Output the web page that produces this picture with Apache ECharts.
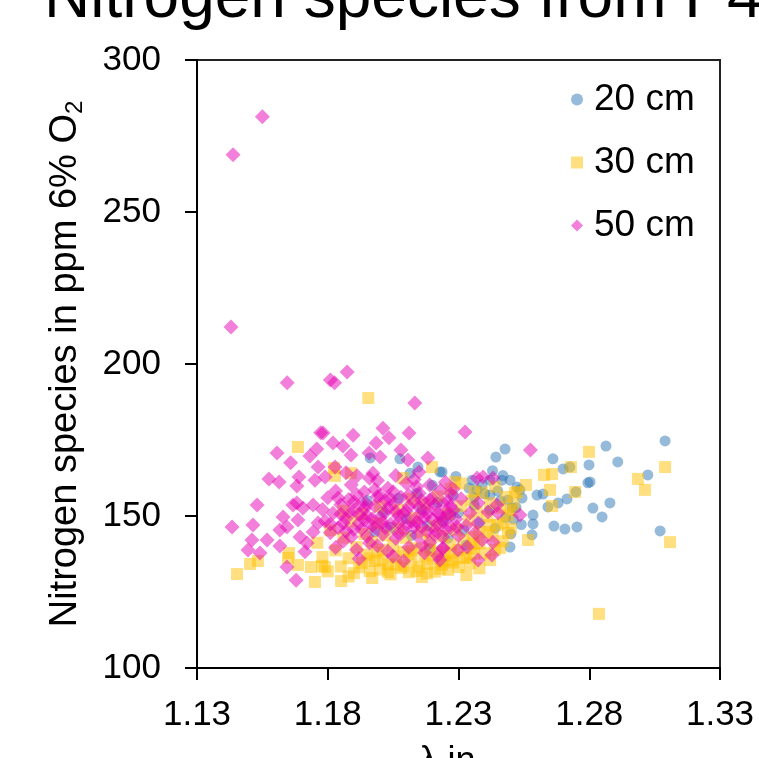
<!DOCTYPE html>
<html><head><meta charset="utf-8">
<script src="https://cdn.jsdelivr.net/npm/echarts@6/dist/echarts.min.js"></script>
<style>html,body{margin:0;padding:0;background:#fff}#c{width:759px;height:758px}</style>
</head><body><div id="c"></div>
<script>
const titleText = 'Nitrogen species from P4';
const xName = 'λ in -';
const yName = 'Nitrogen species in ppm 6% O{sub|2}';
const seriesNames = ['20 cm', '30 cm', '50 cm'];
const yTicks = [100, 150, 200, 250, 300];
const xTicks = [1.13, 1.18, 1.23, 1.28, 1.33];

const cm20 = [
[1.2864,173.0],[1.309,174.7],[1.2909,167.8],[1.3024,163.5],[1.2799,166.8],[1.2661,168.8],[1.27,165.5],[1.2726,166.1],
[1.2478,172.0],[1.2443,169.4],[1.2237,164.5],[1.2795,160.9],[1.2803,161.2],[1.2749,157.9],[1.2879,154.3],[1.2814,152.6],
[1.2849,149.7],[1.2715,155.6],[1.2681,154.3],[1.2642,153.0],[1.2585,150.3],[1.2585,147.4],[1.2581,143.8],[1.2665,146.7],
[1.2707,145.7],[1.2753,146.4],[1.3071,145.1],[1.2497,139.8],[1.2623,157.2],[1.26,156.9],[1.2543,155.9],[1.2524,159.5],
[1.2497,161.8],[1.2466,161.8],[1.242,156.9],[1.242,161.8],[1.2352,161.8],[1.2371,158.6],[1.2489,155.3],[1.2505,152.6],
[1.2535,158.6],[1.1962,169.1],[1.2076,168.8],[1.2145,166.1],[1.2115,164.1],[1.2229,164.5],
[1.201,151.3],[1.204,146.2],[1.207,155.8],[1.210,149.1],[1.212,143.6],[1.214,157.4],[1.216,152.2],[1.218,146.9],[1.220,160.1],[1.222,154.5],
[1.224,148.3],[1.226,142.7],[1.228,156.9],[1.230,151.0],[1.232,145.4],[1.234,159.2],[1.236,153.6],[1.238,147.8],[1.240,157.3],[1.242,151.9],
[1.244,146.0],[1.246,155.0],[1.248,149.5],[1.250,144.1],[1.252,152.8],[1.254,147.2],[1.229,163.0],[1.243,164.9],[1.219,139.2],[1.233,140.5],
[1.198,144.8],[1.195,155.1],[1.236,156.2],[1.239,160.4],[1.245,158.2],[1.247,163.3],[1.251,149.0],[1.227,150.1]
];

const cm30 = [
[1.1955,188.8],[1.1686,172.7],[1.1453,130.9],[1.1533,135.2],[1.1503,134.2],[1.1652,137.8],[1.1686,133.9],[1.1736,133.2],
[1.1751,128.3],[1.1778,133.6],[1.1648,136.2],[1.1851,128.6],[1.1789,133.2],[1.2837,117.8],[1.2799,171.1],[1.273,166.1],
[1.2627,163.5],[1.2658,163.8],[1.265,158.6],[1.2746,157.9],[1.2658,153.3],[1.2566,142.1],[1.2986,162.2],[1.3013,158.6],
[1.309,166.1],[1.3109,141.4],[1.2558,160.2],[1.2524,157.9],[1.2287,161.2],[1.2516,157.6],[1.2459,139.5],[1.2421,135.5],
[1.2344,134.5],[1.2275,135.5],[1.2237,133.9],[1.2421,147.0],[1.2489,144.4],[1.2355,143.1],[1.1828,163.2],[1.1889,164.1],
[1.2199,166.1],[1.2088,162.5],[1.1824,165.8],
[1.176,141.2],[1.178,136.5],[1.180,131.8],[1.181,145.3],[1.183,138.7],[1.185,133.4],[1.186,142.9],[1.188,136.1],[1.189,148.2],[1.190,131.2],
[1.191,139.8],[1.193,134.6],[1.194,144.1],[1.195,137.3],[1.196,131.9],[1.197,141.5],[1.198,135.2],[1.199,147.6],[1.200,132.4],[1.201,138.9],
[1.202,143.7],[1.203,134.1],[1.204,130.8],[1.205,140.3],[1.206,136.6],[1.207,145.9],[1.208,132.9],[1.209,138.2],[1.210,142.8],[1.211,131.5],
[1.212,135.7],[1.213,149.3],[1.214,139.4],[1.215,133.3],[1.216,144.6],[1.217,137.0],[1.218,131.1],[1.219,141.9],[1.220,135.9],[1.221,146.8],
[1.222,138.3],[1.223,132.6],[1.224,143.4],[1.225,136.9],[1.226,150.7],[1.227,140.6],[1.228,134.7],[1.229,145.5],[1.230,138.8],[1.231,153.2],
[1.232,142.2],[1.233,136.4],[1.234,148.6],[1.235,155.1],[1.236,140.9],[1.237,151.4],[1.238,144.8],[1.239,157.7],[1.240,137.8],[1.241,149.9],
[1.242,154.2],[1.243,143.5],[1.244,159.6],[1.245,147.1],[1.246,152.8],[1.247,141.7],[1.248,156.3],[1.249,150.2],[1.250,145.9],[1.251,153.8],
[1.227,158.9],[1.231,160.7],[1.236,158.1],[1.222,156.4],[1.217,153.9],[1.212,155.6],[1.207,152.1],[1.200,153.1],[1.193,150.6],[1.186,151.7],
[1.238,132.8],[1.233,130.6],[1.216,129.9],[1.197,129.6],[1.188,130.1],
[1.192,133.1],[1.196,136.0],[1.199,138.0],[1.203,131.6],[1.206,134.0],[1.209,133.5],[1.212,138.6],[1.214,131.9],[1.218,134.2],[1.221,131.7],
[1.224,135.0],[1.227,137.9],[1.230,133.2],[1.232,136.2],[1.235,139.3],[1.238,141.0],[1.241,144.7],[1.244,138.9],[1.247,147.8],[1.250,151.9],
[1.201,135.6],[1.211,137.4],[1.219,138.9],[1.226,132.3],[1.236,137.6]
];

const cm50 = [
[1.155,281.3],[1.1438,268.8],[1.143,212.2],[1.1645,193.8],[1.181,194.7],[1.1826,193.8],[1.1874,197.4],[1.2133,187.2],[1.2325,177.6],[1.2575,171.7],
[1.1773,177.4],[1.1606,170.7],[1.1658,167.5],[1.1732,169.7],[1.1758,172.0],[1.1763,166.1],[1.1575,162.2],[1.1614,161.2],[1.169,162.8],[1.1751,161.8],
[1.2011,178.9],[1.1897,176.6],[1.2111,177.3],[1.1782,177.3],[1.1985,174.0],[1.2034,175.7],[1.182,174.0],[1.1858,173.0],[1.1889,170.1],[1.1958,170.7],
[1.2,169.4],[1.208,171.7],[1.2183,169.1],[1.2107,168.4],[1.1828,166.1],[1.2149,164.5],[1.1973,164.1],[1.1912,163.2],[1.2371,162.5],[1.2394,162.8],[1.2432,162.5],
[1.153,153.6],[1.1434,146.4],[1.1514,147.0],[1.151,142.1],[1.1568,142.1],[1.1495,138.8],[1.1541,137.8],[1.1617,140.1],[1.1617,145.4],[1.1682,154.3],
[1.1694,143.1],[1.1644,133.2],[1.1679,128.9],[1.1682,159.9],[1.1629,149.7],[1.1644,146.4],[1.1667,153.6],[1.1705,152.6],[1.1744,153.6],[1.1686,148.7],
[1.1721,141.1],[1.1713,138.2],[1.1744,144.7],[1.1763,147.7],
[1.2279,158.9],[1.2241,154.3],[1.2375,154.3],[1.2344,151.0],[1.2413,151.3],[1.2447,153.6],[1.2451,151.0],[1.2535,150.3],[1.2241,148.0],[1.2294,146.4],
[1.2375,147.7],[1.2363,144.4],[1.239,142.1],[1.2432,141.4],[1.2241,139.5],[1.2298,138.8],[1.2333,139.8],[1.2428,137.2],[1.2375,135.5],[1.2229,135.5],
[1.178,152.1],[1.179,148.3],[1.180,156.0],[1.181,144.5],[1.182,150.9],[1.183,158.2],[1.184,146.1],[1.185,153.7],[1.186,141.8],[1.187,149.2],
[1.188,155.4],[1.189,160.3],[1.190,145.6],[1.190,151.8],[1.191,138.9],[1.192,147.7],[1.193,154.2],[1.194,157.9],[1.195,143.3],[1.195,150.1],
[1.196,162.4],[1.197,146.8],[1.198,153.3],[1.199,140.2],[1.200,149.5],[1.200,156.7],[1.201,144.0],[1.202,151.2],[1.203,159.1],[1.204,147.3],
[1.205,136.8],[1.205,153.9],[1.206,142.6],[1.207,149.9],[1.208,156.2],[1.209,145.1],[1.210,151.6],[1.210,160.8],[1.211,139.7],[1.212,148.2],
[1.213,154.6],[1.214,143.7],[1.215,150.4],[1.215,157.5],[1.216,146.5],[1.217,137.9],[1.218,152.7],[1.219,141.3],[1.220,148.9],[1.220,155.8],
[1.221,145.3],[1.222,151.1],[1.223,158.4],[1.224,143.1],[1.225,149.7],[1.226,154.9],[1.227,146.2],[1.228,151.9],[1.179,162.8],[1.183,139.6],
[1.187,164.2],[1.192,135.9],[1.196,141.1],[1.199,161.7],[1.203,138.4],[1.206,163.3],[1.209,135.2],[1.213,162.0],[1.216,140.5],[1.219,160.2],
[1.222,136.9],[1.225,161.1],[1.181,147.4],[1.185,150.6],[1.189,143.2],[1.194,152.5],[1.198,146.3],[1.202,155.1],[1.207,147.8],[1.211,153.2],
[1.214,148.0],[1.218,145.0],[1.221,153.5],[1.224,139.3],[1.227,157.2],
[1.184,155.9],[1.186,147.6],[1.188,151.3],[1.191,157.1],[1.193,145.8],[1.195,153.9],[1.197,149.1],[1.199,156.4],[1.201,147.9],[1.203,152.6],
[1.205,158.0],[1.207,144.3],[1.209,150.7],[1.211,156.9],[1.213,146.4],[1.215,152.9],[1.217,149.4],[1.219,155.3],[1.221,143.8],[1.223,150.3],
[1.225,145.6],[1.227,153.2],[1.229,149.0],[1.231,155.7],[1.233,146.9],[1.187,145.0],[1.190,154.6],[1.194,148.8],[1.198,158.7],[1.202,146.1],
[1.206,151.4],[1.210,147.0],[1.214,159.6],[1.218,150.8],[1.222,147.5],[1.226,151.0],[1.230,143.5],[1.192,150.5],[1.204,155.6],[1.216,155.1]
];

const FONT = 'Liberation Sans, Arial, sans-serif';
const chart = echarts.init(document.getElementById('c'), null, {renderer: 'canvas'});
chart.setOption({
  animation: false,
  backgroundColor: '#fff',
  graphic: [{
    type: 'text', left: 44, top: -33,
    style: {text: titleText, font: '64px ' + FONT, fill: '#000'}
  }],
  grid: {left: 197, right: 39, top: 60, bottom: 90, containLabel: false, outerBoundsMode: 'none',
         show: true, borderColor: '#222', borderWidth: 2, backgroundColor: 'transparent'},
  legend: {
    orient: 'vertical', left: 566, top: 76, itemGap: 26, itemWidth: 12, itemHeight: 12,
    data: seriesNames,
    textStyle: {fontFamily: FONT, fontSize: 37, color: '#000', padding: [0, 0, 0, 6]}
  },
  xAxis: {
    type: 'value', min: xTicks[0], max: xTicks[xTicks.length - 1], interval: 0.05,
    name: xName, nameLocation: 'middle', nameGap: 76,
    nameTextStyle: {fontFamily: FONT, fontSize: 36, color: '#000'},
    axisLine: {onZero: false, lineStyle: {color: '#000', width: 2}},
    axisTick: {show: true, inside: false, length: 12, lineStyle: {color: '#000', width: 2}},
    axisLabel: {fontFamily: FONT, fontSize: 35, color: '#000', margin: 30, formatter: v => v.toFixed(2)},
    splitLine: {show: false}
  },
  yAxis: {
    type: 'value', min: yTicks[0], max: yTicks[yTicks.length - 1], interval: 50,
    name: yName, nameLocation: 'middle', nameGap: 110, nameRotate: 90,
    nameTextStyle: {fontFamily: FONT, fontSize: 38, color: '#000', rich: {sub: {fontFamily: FONT, fontSize: 24, color: '#000', verticalAlign: 'bottom', padding: [18, 0, 0, 0]}}},
    axisLine: {onZero: false, lineStyle: {color: '#000', width: 2}},
    axisTick: {show: true, inside: false, length: 12, lineStyle: {color: '#000', width: 2}},
    axisLabel: {fontFamily: FONT, fontSize: 35, color: '#000', margin: 36},
    splitLine: {show: false}
  },
  series: [
    {name: seriesNames[0], type: 'scatter', symbol: 'circle', symbolSize: 11, data: cm20,
     itemStyle: {color: '#2E75B6', opacity: 0.5}},
    {name: seriesNames[1], type: 'scatter', symbol: 'rect', symbolSize: 12, data: cm30,
     itemStyle: {color: '#FFC000', opacity: 0.5}},
    {name: seriesNames[2], type: 'scatter', symbol: 'diamond', symbolSize: 15, data: cm50,
     itemStyle: {color: '#E600B4', opacity: 0.5}}
  ]
});
</script></body></html>
